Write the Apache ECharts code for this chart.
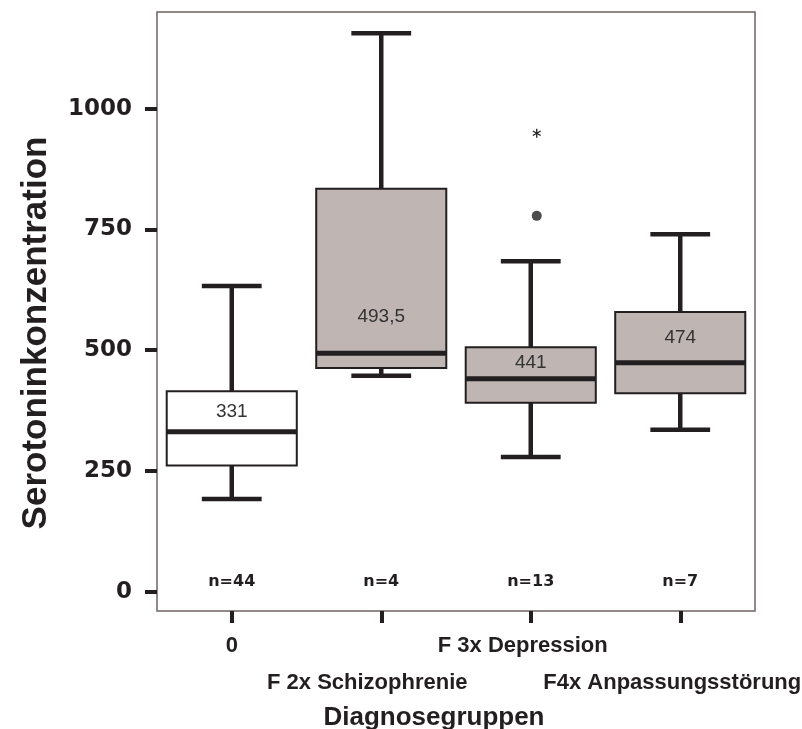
<!DOCTYPE html>
<html>
<head>
<meta charset="utf-8">
<script src="https://cdn.jsdelivr.net/npm/echarts@6/dist/echarts.min.js"></script>
<style>
  html, body { margin: 0; padding: 0; background: #ffffff; }
  #chart { width: 802px; height: 729px; }
</style>
</head>
<body>
<div id="chart"></div>
<script>
// Diagnostic groups and their serotonin concentration summaries
const categories = ['0', 'F 2x Schizophrenie', 'F 3x Depression', 'F4x Anpassungsstörung'];
const whiskerLow = [192, 447, 279, 335];
const quartile1 = [261, 463, 391, 411];
const medians = [331, 493.5, 441, 474];
const quartile3 = [415, 834, 506, 579];
const whiskerHigh = [633, 1156, 684, 740];
const groupSizes = [44, 4, 13, 7];
// Outliers: [group index, value]; extremes drawn as asterisks
const outliers = [[2, 778]];
const extremes = [[2, 949]];
const yTicks = [0, 250, 500, 750, 1000];

const boxFills = ['#ffffff', '#bfb5b3', '#bfb5b3', '#bfb5b3'];
const ink = '#231f20';

const boxData = categories.map((c, i) => [i, whiskerLow[i], quartile1[i], medians[i], quartile3[i], whiskerHigh[i]]);

function renderBox(params, api) {
  const i = api.value(0);
  const x = api.coord([i, 0])[0];
  const yLow = api.coord([i, api.value(1)])[1];
  const yQ1 = api.coord([i, api.value(2)])[1];
  const yMed = api.coord([i, api.value(3)])[1];
  const yQ3 = api.coord([i, api.value(4)])[1];
  const yHigh = api.coord([i, api.value(5)])[1];
  const band = api.size([1, 0])[0];
  const halfBox = band * 0.435;
  const halfCap = band * 0.2;
  const med = api.value(3);
  const q3 = api.value(4);
  const labelVal = med + Math.min((q3 - med) / 2, 75);
  const yLabel = api.coord([i, labelVal])[1];
  const lineStyle = { stroke: ink, lineWidth: 4.5 };
  return {
    type: 'group',
    children: [
      { type: 'line', shape: { x1: x, y1: yHigh, x2: x, y2: yQ3 }, style: lineStyle },
      { type: 'line', shape: { x1: x, y1: yQ1, x2: x, y2: yLow }, style: lineStyle },
      { type: 'line', shape: { x1: x - halfCap, y1: yHigh, x2: x + halfCap, y2: yHigh }, style: lineStyle },
      { type: 'line', shape: { x1: x - halfCap, y1: yLow, x2: x + halfCap, y2: yLow }, style: lineStyle },
      { type: 'rect', shape: { x: x - halfBox, y: yQ3, width: halfBox * 2, height: yQ1 - yQ3 },
        style: { fill: boxFills[i], stroke: ink, lineWidth: 2 } },
      { type: 'line', shape: { x1: x - halfBox, y1: yMed, x2: x + halfBox, y2: yMed }, style: { stroke: ink, lineWidth: 5 } },
      { type: 'text', x: x, y: yLabel,
        style: { text: String(med).replace('.', ','), fill: '#333333', font: '19px "Liberation Sans", Arial, sans-serif',
                 align: 'center', verticalAlign: 'middle' } }
    ]
  };
}

function renderCount(params, api) {
  const i = api.value(0);
  const p = api.coord([i, 20]);
  return { type: 'text', x: p[0], y: p[1],
    style: { text: 'n=' + api.value(1), fill: ink, font: 'bold 16px "DejaVu Sans", sans-serif',
             align: 'center', verticalAlign: 'middle' } };
}

function renderExtreme(params, api) {
  const p = api.coord([api.value(0), api.value(1)]);
  const cx = p[0] + 6;
  const r = 4.5;
  const s = { stroke: ink, lineWidth: 1.3 };
  return { type: 'group', children: [
    { type: 'line', shape: { x1: cx, y1: p[1] - r, x2: cx, y2: p[1] + r }, style: s },
    { type: 'line', shape: { x1: cx - r * 0.87, y1: p[1] - r * 0.5, x2: cx + r * 0.87, y2: p[1] + r * 0.5 }, style: s },
    { type: 'line', shape: { x1: cx - r * 0.87, y1: p[1] + r * 0.5, x2: cx + r * 0.87, y2: p[1] - r * 0.5 }, style: s }
  ] };
}

// horizontal nudges of the category captions (positive = left)
const captionNudge = [0, 28, 16, 16];
const captionStyle = (k) => ({
  fontFamily: 'Liberation Sans', fontWeight: 'bold', fontSize: 22, color: ink, lineHeight: 37,
  padding: captionNudge[k] >= 0 ? [0, captionNudge[k], 0, 0] : [0, 0, 0, -captionNudge[k]]
});

const chart = echarts.init(document.getElementById('chart'), null, { renderer: 'canvas' });
chart.setOption({
  animation: false,
  backgroundColor: '#ffffff',
  grid: { left: 157, top: 12, width: 598, height: 599, outerBoundsMode: 'none', containLabel: false,
          show: true, borderColor: '#6e6360', borderWidth: 1.5, backgroundColor: 'transparent' },
  xAxis: {
    type: 'category',
    data: categories,
    boundaryGap: true,
    axisLine: { show: false, onZero: false },
    axisTick: { show: true, alignWithLabel: true, length: 12, lineStyle: { color: ink, width: 4 } },
    axisLabel: {
      interval: 0,
      margin: 16,
      formatter: function (v, idx) {
        const key = 's' + idx;
        return idx % 2 === 1 ? '{' + key + '|}\n{' + key + '|' + v + '}' : '{' + key + '|' + v + '}';
      },
      rich: { s0: captionStyle(0), s1: captionStyle(1), s2: captionStyle(2), s3: captionStyle(3) }
    },
    name: 'Diagnosegruppen',
    nameLocation: 'middle',
    nameGap: 94,
    nameTextStyle: { fontFamily: 'Liberation Sans', fontWeight: 'bold', fontSize: 26, color: ink, padding: [0, 44, 0, 0] }
  },
  yAxis: {
    type: 'value',
    min: -40,
    max: 1200,
    splitLine: { show: false },
    axisLine: { show: false, onZero: false },
    axisTick: { show: true, length: 12, customValues: yTicks, lineStyle: { color: ink, width: 4 } },
    axisLabel: { customValues: yTicks, margin: 25, formatter: (v) => String(v),
                 fontFamily: 'DejaVu Sans', fontWeight: 'bold', fontSize: 23, color: ink },
    name: 'Serotoninkonzentration',
    nameLocation: 'middle',
    nameRotate: 90,
    nameGap: 103,
    nameTextStyle: { fontFamily: 'Liberation Sans', fontWeight: 'bold', fontSize: 35, color: ink, padding: [0, 43, 0, 0] }
  },
  series: [
    { type: 'custom', renderItem: renderBox, data: boxData, encode: { x: 0, y: [1, 5] }, z: 2 },
    { type: 'custom', renderItem: renderCount, data: groupSizes.map((n, i) => [i, n]), z: 3 },
    { type: 'scatter', data: outliers, symbol: 'circle', symbolSize: 10, symbolOffset: [6, 0], itemStyle: { color: ink }, z: 3 },
    { type: 'custom', renderItem: renderExtreme, data: extremes, z: 3 }
  ]
});
</script>
</body>
</html>
